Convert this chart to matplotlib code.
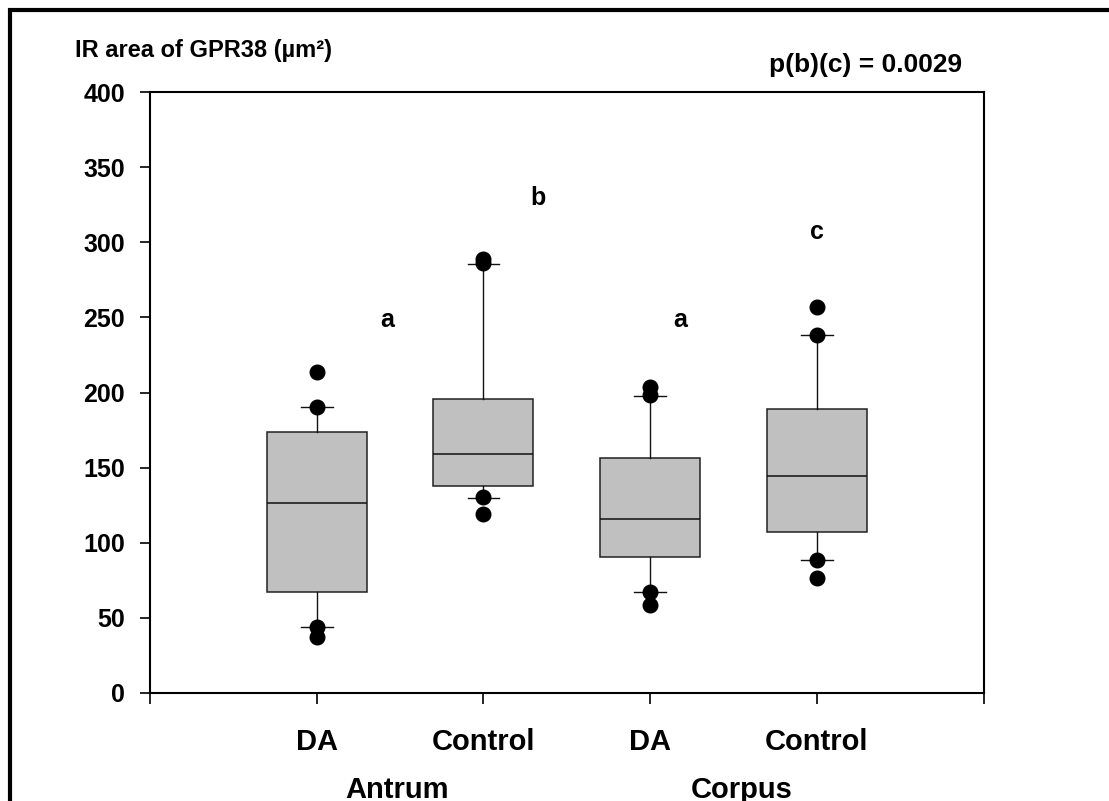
import matplotlib
matplotlib.use("Agg")
import matplotlib.pyplot as plt
from matplotlib.patches import Rectangle
from matplotlib.transforms import blended_transform_factory

plt.rcParams['font.family'] = ['Liberation Sans', 'DejaVu Sans']
plt.rcParams['font.weight'] = 'bold'

# Group labels (x positions 1..4)
groups = ['DA', 'Control', 'DA', 'Control']
regions = ['Antrum', 'Corpus']
region_pos = [1.48, 3.55]

# Box statistics per group: 25th/50th/75th percentiles, 10th/90th whiskers
q1 = [67.4, 137.8, 90.7, 107.4]
med = [126.2, 159.3, 115.8, 144.4]
q3 = [173.7, 195.9, 156.6, 188.8]
whislo = [44.1, 130.0, 67.4, 88.5]
whishi = [190.6, 285.5, 197.7, 238.3]
outliers = [
    [37.5, 44.1, 190.6, 213.9],
    [118.9, 130.7, 286.2, 288.8],
    [58.6, 67.4, 198.3, 203.6],
    [76.3, 88.5, 238.3, 257.1],
]

# Significance letters
letters = ['a', 'b', 'a', 'c']
letter_x = [1.42, 2.33, 3.18, 4.0]
letter_y = [248.3, 329.5, 248.3, 307.0]

W, H = 1109, 801
fig = plt.figure(figsize=(W / 100, H / 100), dpi=100)
ax = fig.add_axes([150 / W, (H - 693) / H, (983.5 - 150) / W, (693 - 92) / H])

stats = []
for i in range(4):
    stats.append(dict(med=med[i], q1=q1[i], q3=q3[i],
                      whislo=whislo[i], whishi=whishi[i], fliers=outliers[i]))

ax.bxp(stats, positions=[1, 2, 3, 4], widths=0.6, patch_artist=True,
       capwidths=0.19,
       boxprops=dict(facecolor='#c0c0c0', edgecolor='#222222', linewidth=1.1),
       medianprops=dict(color='#111111', linewidth=1.1),
       whiskerprops=dict(color='#111111', linewidth=1.0),
       capprops=dict(color='#111111', linewidth=1.0),
       flierprops=dict(marker='o', markerfacecolor='black', markeredgecolor='black',
                       markersize=10.5, linestyle='none'))

for lx, ly, t in zip(letter_x, letter_y, letters):
    ax.text(lx, ly, t, ha='center', va='center', fontsize=18, fontweight='bold')

ax.set_xlim(0, 5)
ax.set_ylim(0, 400)
ax.set_yticks(range(0, 401, 50))
ax.set_xticks(range(0, 6))
ax.set_xticklabels([])
ax.tick_params(axis='y', direction='out', length=7, width=1.2, labelsize=18, pad=11)
ax.tick_params(axis='x', direction='out', length=8, width=1.2)
for lab in ax.get_yticklabels():
    lab.set_fontweight('bold')
for sp in ax.spines.values():
    sp.set_linewidth(1.5)

# category and region labels under the axis (x in data, y in figure)
trans = blended_transform_factory(ax.transData, fig.transFigure)
for i, g in enumerate(groups):
    fig.text(i + 1, 1 - 741.7 / H, g, transform=trans,
             ha='center', va='center', fontsize=21, fontweight='bold')
for rx, r in zip(region_pos, regions):
    fig.text(rx, 1 - 790 / H, r, transform=trans,
             ha='center', va='center', fontsize=21, fontweight='bold')

fig.text(75 / W, 1 - 51 / H, 'IR area of GPR38 (µm²)', ha='left', va='center',
         fontsize=17, fontweight='bold')
fig.text(866 / W, 1 - 65 / H, 'p(b)(c) = 0.0029', ha='center', va='center',
         fontsize=19, fontweight='bold')

# outer frame around the figure
fig.patches.append(Rectangle((10 / W, -0.05), 1.1, 1 - 9.5 / H + 0.05,
                             transform=fig.transFigure, fill=False,
                             edgecolor='black', linewidth=3, clip_on=False))

fig.savefig('out.png', dpi=100)
